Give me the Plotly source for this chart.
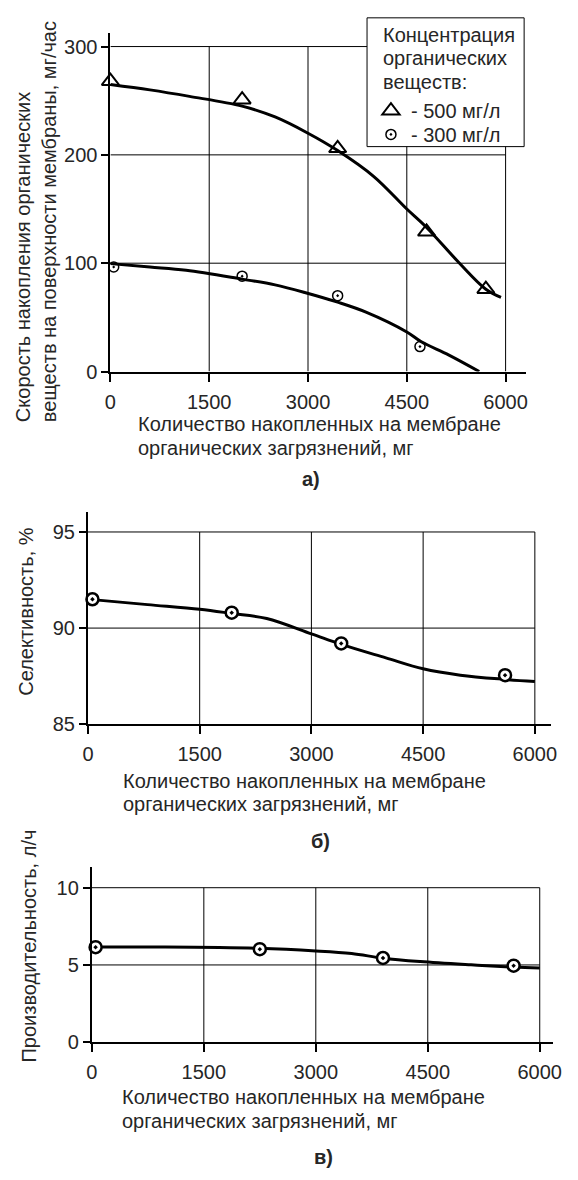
import plotly.graph_objects as go

W, H = 578, 1180
FONT = "Liberation Sans, Arial, sans-serif"
INK = "#262626"

# ---- data -------------------------------------------------------------
x_ticks = [0, 1500, 3000, 4500, 6000]

# (а) accumulation rate, mg/h
a_x_500 = [0, 2000, 3450, 4800, 5700]
a_y_500 = [268, 251, 206, 129, 76]
a_x_300 = [50, 2000, 3450, 4700]
a_y_300 = [96.5, 88, 70, 23]
a_fit500_x = [0, 600, 1200, 2000, 2500, 3000, 3450, 4000, 4500, 4800, 5300, 5700, 5930]
a_fit500_y = [265, 260, 254, 245, 235, 220, 204, 180, 150, 133, 100, 76, 68.5]
a_fit300_x = [0, 600, 1150, 2000, 2500, 2950, 3450, 3880, 4500, 4720, 5140, 5600]
a_fit300_y = [99.6, 96.5, 93.5, 85.3, 80, 73, 64, 54.8, 36.5, 27.4, 15.2, 0]
a_y_ticks = [0, 100, 200, 300]
legend_title = ["Концентрация", "органических", "веществ:"]

# (б) selectivity, %
b_x = [60, 1930, 3400, 5600]
b_y = [91.5, 90.8, 89.2, 87.55]
b_fit_x = [60, 800, 1500, 1930, 2400, 3000, 3400, 4000, 4500, 5000, 5600, 6000]
b_fit_y = [91.48, 91.22, 90.98, 90.76, 90.5, 89.7, 89.15, 88.45, 87.88, 87.55, 87.33, 87.22]
b_y_ticks = [85, 90, 95]

# (в) productivity, l/h
c_x = [50, 2250, 3900, 5650]
c_y = [6.15, 6.02, 5.45, 4.95]
c_fit_x = [50, 980, 2230, 3000, 3480, 3900, 4400, 5080, 5650, 6000]
c_fit_y = [6.16, 6.16, 6.08, 5.91, 5.74, 5.44, 5.22, 5.01, 4.86, 4.8]
c_y_ticks = [0, 5, 10]

x_title_lines = ["Количество накопленных на мембране", "органических загрязнений, мг"]


def fx(p):
    return p / W


def fy(p):
    return 1 - p / H


fig = go.Figure()
curve = dict(color="black", width=3, shape="spline", smoothing=1)

# ---- panel а ----
fig.add_trace(go.Scatter(x=a_fit500_x, y=a_fit500_y, mode="lines", line=curve,
                         showlegend=False, hoverinfo="skip", xaxis="x", yaxis="y"))
fig.add_trace(go.Scatter(x=a_fit300_x, y=a_fit300_y, mode="lines", line=curve,
                         showlegend=False, hoverinfo="skip", xaxis="x", yaxis="y"))
fig.add_trace(go.Scatter(x=a_x_500, y=a_y_500, mode="markers", name="- 500 мг/л",
                         legend="legend",
                         marker=dict(symbol="triangle-up-open", size=15, color="black",
                                     line=dict(color="black", width=2)),
                         cliponaxis=False, xaxis="x", yaxis="y"))
fig.add_trace(go.Scatter(x=a_x_300, y=a_y_300, mode="markers", name="- 300 мг/л",
                         legend="legend2",
                         marker=dict(symbol="circle-open-dot", size=10, color="black",
                                     line=dict(color="black", width=1.5)),
                         cliponaxis=False, xaxis="x", yaxis="y"))

# ---- panel б ----
fig.add_trace(go.Scatter(x=b_fit_x, y=b_fit_y, mode="lines", line=curve,
                         showlegend=False, hoverinfo="skip", xaxis="x2", yaxis="y2"))
fig.add_trace(go.Scatter(x=b_x, y=b_y, mode="markers", showlegend=False,
                         marker=dict(symbol="circle-dot", size=12, color="white",
                                     line=dict(color="black", width=2.5)),
                         cliponaxis=False, xaxis="x2", yaxis="y2"))

# ---- panel в ----
fig.add_trace(go.Scatter(x=c_fit_x, y=c_fit_y, mode="lines", line=curve,
                         showlegend=False, hoverinfo="skip", xaxis="x3", yaxis="y3"))
fig.add_trace(go.Scatter(x=c_x, y=c_y, mode="markers", showlegend=False,
                         marker=dict(symbol="circle-dot", size=12, color="white",
                                     line=dict(color="black", width=2.5)),
                         cliponaxis=False, xaxis="x3", yaxis="y3"))

axis_common = dict(showgrid=False, zeroline=False, showline=True, linecolor="black",
                   linewidth=2, ticks="outside", tickcolor="black", tickwidth=2,
                   tickfont=dict(family=FONT, size=20, color=INK), fixedrange=True)

panels = [
    # (suffix, x-domain px, x max, y-domain px, y range, y ticks)
    ("", (107, 533), 6311, (375, 33), (0, 312.8), a_y_ticks),
    ("2", (84, 559), 6223, (731, 517), (85, 96.03), b_y_ticks),
    ("3", (88, 561), 6183, (1052, 875), (0, 11.35), c_y_ticks),
]

shapes = []
for sfx, xd, xr, yd, yr, yt in panels:
    fig.update_layout(**{
        "xaxis" + sfx: dict(axis_common, domain=[fx(xd[0]), fx(xd[1])], range=[0, xr],
                            tickvals=x_ticks, ticklen=8, ticklabelstandoff=3,
                            anchor="y" + sfx),
        "yaxis" + sfx: dict(axis_common, domain=[fy(yd[0]), fy(yd[1])], range=list(yr),
                            tickvals=yt, ticklen=7, anchor="x" + sfx),
    })
    xref, yref = "x" + sfx, "y" + sfx
    for gx in x_ticks[1:]:
        shapes.append(dict(type="line", xref=xref, yref=yref, x0=gx, x1=gx,
                           y0=yt[0], y1=yt[-1], line=dict(color="black", width=1),
                           layer="below"))
    for gy in yt[1:]:
        shapes.append(dict(type="line", xref=xref, yref=yref, x0=0, x1=x_ticks[-1],
                           y0=gy, y1=gy, line=dict(color="black", width=1),
                           layer="below"))

# legend frame for panel а
shapes.append(dict(type="rect", xref="paper", yref="paper",
                   x0=fx(370), x1=fx(531), y0=fy(148), y1=fy(18),
                   fillcolor="white", line=dict(color="black", width=1), layer="above"))

txt = dict(family=FONT, size=20, color=INK)
annotations = [
    # y-axis titles
    dict(text="Скорость накопления органических<br>веществ на поверхности мембраны, мг/час",
         x=fx(31), y=fy(224), textangle=-90, align="left", font=txt),
    dict(text="Селективность, %", x=fx(21), y=fy(617), textangle=-90, font=txt),
    dict(text="Производительность, л/ч", x=fx(24), y=fy(955), textangle=-90, font=txt),
    # panel letters
    dict(text="<b>а)</b>", x=fx(313), y=fy(484), font=txt),
    dict(text="<b>б)</b>", x=fx(322), y=fy(849), font=txt),
    dict(text="<b>в)</b>", x=fx(325), y=fy(1168), font=txt),
]
# x-axis titles, two lines each
for left, tops in [(133, (428, 452)), (118, (788, 812)), (117, (1107, 1132))]:
    for line, ypx in zip(x_title_lines, tops):
        annotations.append(dict(text=line, x=fx(left), y=fy(ypx), xanchor="left",
                                font=txt))
for i, line in enumerate(legend_title):
    annotations.append(dict(text=line, x=fx(384), y=fy(35 + 24 * i),
                            xanchor="left", font=txt))
for a in annotations:
    a.update(xref="paper", yref="paper", showarrow=False)
    a.setdefault("xanchor", "center")
    a.setdefault("yanchor", "middle")

leg = dict(font=txt, xanchor="left", yanchor="top", bgcolor="rgba(0,0,0,0)",
           borderwidth=0, x=fx(374))
fig.update_layout(
    width=W, height=H, autosize=False,
    margin=dict(l=0, r=0, t=0, b=0),
    paper_bgcolor="white", plot_bgcolor="white",
    shapes=shapes, annotations=annotations,
    showlegend=True,
    legend=dict(leg, y=fy(92)),
    legend2=dict(leg, y=fy(116)),
)

fig.write_html("out.html")
